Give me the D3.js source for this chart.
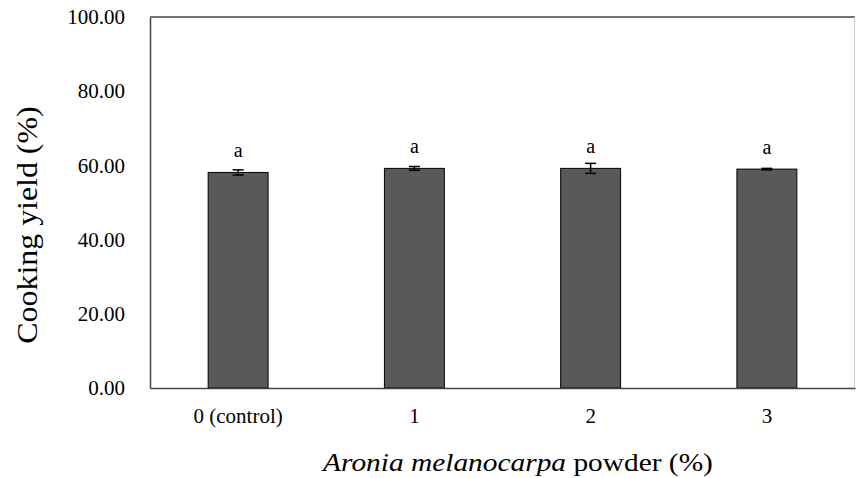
<!DOCTYPE html>
<html>
<head>
  <style>
    body { margin: 0; background: #fff; }
    svg text { font-family: "Liberation Serif", "Times New Roman", serif; fill: #000; }
  </style>
</head>
<body>
  <svg id="chart" width="856" height="478"></svg>

  <script src="https://d3js.org/d3.v7.min.js"></script>
  <script>
    // values
    const categories = ['0 (control)', '1', '2', '3'];
    const yieldMean = [58.1, 59.2, 59.2, 59.0];
    const yieldSd = [0.7, 0.5, 1.35, 0.2];
    const letters = ['a', 'a', 'a', 'a'];
    const yTicks = [0, 20, 40, 60, 80, 100];

    const serif = '"Liberation Serif", "Times New Roman", serif';
    const svg = d3.select('#chart');
    const plotLeft = 150, plotRight = 855, plotTop = 17, plotBottom = 388;

    const x = d3.scaleBand().domain(categories).range([plotLeft, plotRight]).paddingInner(0.66).paddingOuter(0.33);
    const y = d3.scaleLinear().domain([0, 100]).range([plotBottom, plotTop]);

    // frame: dark top/left, light gray right (as in the reference)
    svg.append('line').attr('x1', plotLeft).attr('x2', plotRight).attr('y1', plotTop).attr('y2', plotTop)
      .attr('stroke', '#444').attr('stroke-width', 1.5);
    svg.append('line').attr('x1', plotRight - 0.5).attr('x2', plotRight - 0.5).attr('y1', plotTop).attr('y2', plotBottom)
      .attr('stroke', '#ccc').attr('stroke-width', 1);

    // bars
    svg.selectAll('rect.bar')
      .data(categories)
      .enter().append('rect')
      .attr('class', 'bar')
      .attr('x', d => x(d))
      .attr('width', x.bandwidth())
      .attr('y', (d, i) => y(yieldMean[i]))
      .attr('height', (d, i) => y(0) - y(yieldMean[i]))
      .attr('fill', '#595959')
      .attr('stroke', '#000')
      .attr('stroke-width', 1);

    // error bars
    const cx = d => x(d) + x.bandwidth() / 2;
    const eb = svg.selectAll('g.err').data(categories).enter().append('g').attr('class', 'err')
      .attr('stroke', '#000').attr('stroke-width', 1.5);
    eb.append('line')
      .attr('x1', cx).attr('x2', cx)
      .attr('y1', (d, i) => y(yieldMean[i] + yieldSd[i])).attr('y2', (d, i) => y(yieldMean[i] - yieldSd[i]));
    eb.append('line')
      .attr('x1', d => cx(d) - 5.5).attr('x2', d => cx(d) + 5.5)
      .attr('y1', (d, i) => y(yieldMean[i] + yieldSd[i])).attr('y2', (d, i) => y(yieldMean[i] + yieldSd[i]));
    eb.append('line')
      .attr('x1', d => cx(d) - 5.5).attr('x2', d => cx(d) + 5.5)
      .attr('y1', (d, i) => y(yieldMean[i] - yieldSd[i])).attr('y2', (d, i) => y(yieldMean[i] - yieldSd[i]));

    // significance letters
    svg.selectAll('text.letter').data(categories).enter().append('text')
      .attr('class', 'letter')
      .attr('x', cx)
      .attr('y', (d, i) => y(yieldMean[i]) - 15)
      .attr('text-anchor', 'middle')
      .style('font-size', '20px')
      .text((d, i) => letters[i]);

    // y axis
    const yAxis = svg.append('g').attr('transform', `translate(${plotLeft},0)`)
      .call(d3.axisLeft(y).tickValues(yTicks).tickSize(0).tickPadding(25).tickFormat(d3.format('.2f')))
      .attr('font-family', serif).attr('font-size', 21);
    yAxis.select('.domain').attr('stroke', '#444').attr('stroke-width', 1.5);
    yAxis.selectAll('text').attr('fill', '#000').style('font-size', '21px');

    // x axis
    const xAxis = svg.append('g').attr('transform', `translate(0,${plotBottom})`)
      .call(d3.axisBottom(x).tickSize(0).tickPadding(20))
      .attr('font-family', serif).attr('font-size', 21);
    xAxis.select('.domain').attr('stroke', '#444').attr('stroke-width', 1.5);
    xAxis.selectAll('text').attr('fill', '#000').style('font-size', '21px');

    // axis titles
    svg.append('text')
      .attr('transform', 'translate(37,225) rotate(-90) scale(1.1,1)')
      .attr('text-anchor', 'middle')
      .style('font-size', '29px')
      .text('Cooking yield (%)');

    const xt = svg.append('text')
      .attr('transform', 'translate(518,471) scale(1.2,1)')
      .attr('text-anchor', 'middle')
      .style('font-size', '24.5px');
    xt.append('tspan').style('font-style', 'italic').text('Aronia melanocarpa');
    xt.append('tspan').text(' powder (%)');
  </script>
</body>
</html>
